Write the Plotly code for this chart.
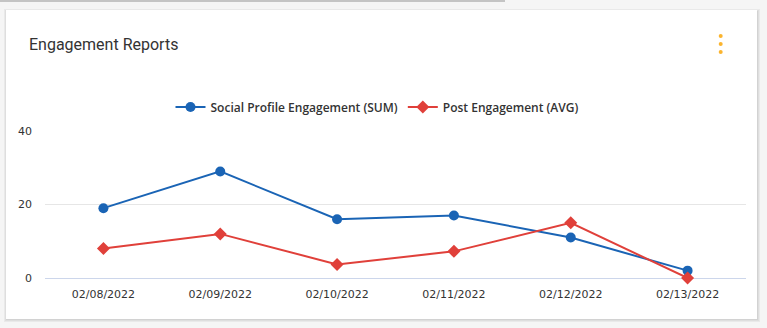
import plotly.graph_objects as go

dates = ["02/08/2022", "02/09/2022", "02/10/2022", "02/11/2022", "02/12/2022", "02/13/2022"]
social_sum = [19, 29, 16, 17, 11, 2]
post_avg = [8, 12, 3.7, 7.25, 15, 0]
y_ticks = [0, 20, 40]

W, H = 767, 328
BLUE = "#1a64b5"
RED = "#e0403a"

def px(x):
    return x / W

def py(y):
    return 1 - y / H

fig = go.Figure()
fig.add_trace(go.Scatter(
    x=dates, y=social_sum, name="Social Profile Engagement (SUM)",
    mode="lines+markers", line=dict(color=BLUE, width=2),
    marker=dict(symbol="circle", size=10, color=BLUE), cliponaxis=False,
))
fig.add_trace(go.Scatter(
    x=dates, y=post_avg, name="Post Engagement (AVG)",
    mode="lines+markers", line=dict(color=RED, width=2),
    marker=dict(symbol="diamond", size=10, color=RED), cliponaxis=False,
))

shapes = []
# top gray strip from card above
shapes.append(dict(type="rect", xref="paper", yref="paper", x0=px(0), x1=px(505), y0=py(2), y1=py(0),
                   fillcolor="#c4c4c4", line_width=0, layer="below"))
# card shadow
for i, c in enumerate(["#e9e9e9", "#dedede", "#d2d2d2"]):
    d = 3 - i
    shapes.append(dict(type="rect", xref="paper", yref="paper",
                       x0=px(6 - d + 1), x1=px(757 + d), y0=py(319 + d), y1=py(10 - d + 2),
                       fillcolor=c, line_width=0, layer="below"))
# card
shapes.append(dict(type="rect", xref="paper", yref="paper", x0=px(6), x1=px(757), y0=py(319), y1=py(10),
                   fillcolor="white", line_width=0, layer="below"))
# menu dots
for cy in [36, 44, 52]:
    shapes.append(dict(type="circle", xref="paper", yref="paper",
                       x0=px(718.7), x1=px(722.7), y0=py(cy + 2), y1=py(cy - 2),
                       fillcolor="#fbb42e", line_width=0))

fig.update_layout(
    width=W, height=H,
    margin=dict(l=0, r=0, t=0, b=0, autoexpand=False),
    paper_bgcolor="#f5f5f5",
    plot_bgcolor="rgba(0,0,0,0)",
    shapes=shapes,
    showlegend=True,
    legend=dict(orientation="h", x=px(377), xanchor="center", y=py(107), yanchor="middle",
                font=dict(family="Open Sans", size=12, color="#333333", weight=600),
                bgcolor="rgba(0,0,0,0)", itemwidth=30, tracegroupgap=0),
    annotations=[dict(text="Engagement Reports", xref="paper", yref="paper", x=px(27), y=py(44),
                      xanchor="left", yanchor="middle", showarrow=False,
                      font=dict(family="Roboto", size=16, color="#333333"))],
    xaxis=dict(domain=[px(45), px(746)], range=[-0.5, 5.5], type="category",
               showgrid=False, showline=False, zeroline=False, ticks="",
               tickfont=dict(family="DejaVu Sans", size=11, color="#333333"),
               ticklabelstandoff=8),
    yaxis=dict(domain=[py(278), py(131)], range=[0, 40], tickvals=y_ticks,
               showgrid=True, gridcolor="#e6e6e6", gridwidth=1,
               zeroline=True, zerolinecolor="#ccd6eb", zerolinewidth=1,
               showline=False, ticks="",
               tickfont=dict(family="DejaVu Sans", size=11, color="#333333"),
               ticklabelstandoff=12),
)

fig.write_html("out.html")
